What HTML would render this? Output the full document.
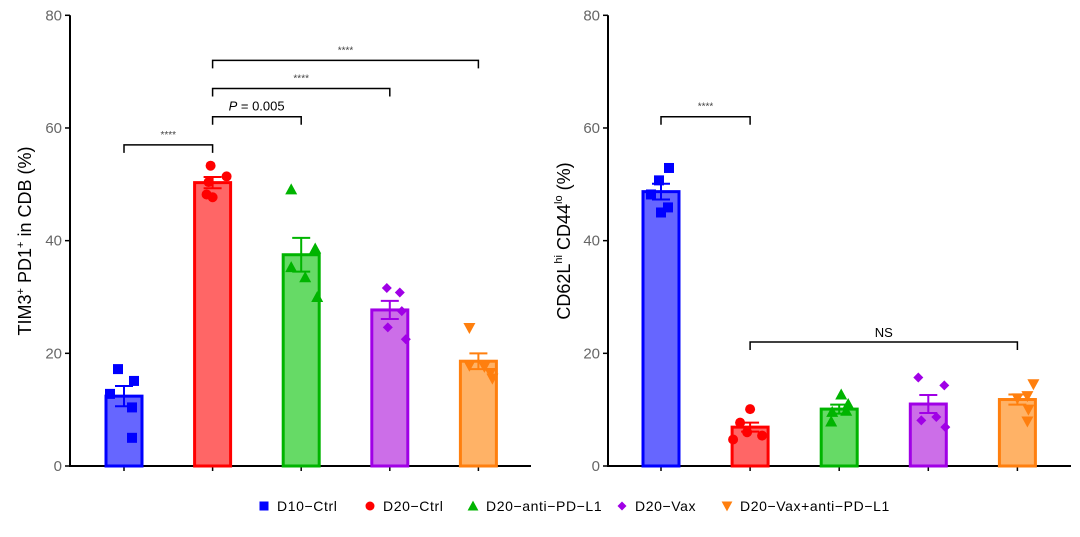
<!DOCTYPE html>
<html><head><meta charset="utf-8">
<style>
html,body{margin:0;padding:0;background:#fff;}
svg{display:block;font-family:"Liberation Sans",Arial,sans-serif;}
</style></head>
<body>
<svg id="chart" width="1080" height="537" viewBox="0 0 1080 537">
  <g id="left"></g>
  <g id="right"></g>
  <g id="legend"></g>
</svg>
<script>
// ---- data ----
const groups = ["D10−Ctrl","D20−Ctrl","D20−anti−PD−L1","D20−Vax","D20−Vax+anti−PD−L1"];
const yTicks = [0,20,40,60,80];
const leftMeans = [12.4, 50.3, 37.5, 27.7, 18.6];
const leftErr = [1.8, 1.0, 3.0, 1.6, 1.4];
const leftPoints = [
  [17.2, 15.1, 12.8, 10.4, 5.0],
  [53.3, 51.4, 50.4, 48.2, 47.7],
  [49.1, 38.6, 35.3, 33.5, 30.0],
  [31.6, 30.8, 27.5, 24.6, 22.5],
  [24.5, 17.8, 16.5, 17.6, 15.5]
];
const rightMeans = [48.7, 6.9, 10.1, 11.0, 11.8];
const rightErr = [1.4, 0.8, 0.8, 1.6, 0.9];
const rightPoints = [
  [52.9, 50.7, 48.2, 45.9, 45.0],
  [10.1, 7.7, 6.0, 5.4, 4.7],
  [12.7, 11.0, 9.6, 9.8, 7.9],
  [15.7, 14.3, 8.7, 8.1, 6.9],
  [14.5, 12.4, 12.0, 10.0, 7.9]
];
const leftBrackets = [[0,1,"****"],[1,2,"P = 0.005"],[1,3,"****"],[1,4,"****"]];
const leftBracketLevels = [57, 62, 67, 72];
const rightBrackets = [[0,1,"****"],[1,4,"NS"]];
const rightBracketLevels = [62, 22];

// ---- style ----
const stroke = ["#0000ff","#ff0000","#00b400","#a000e6","#ff7f0e"];
const fill = ["#6666ff","#ff6666","#66da66","#cc6ee8","#ffb266"];
const shapes = ["square","circle","triangle","diamond","dtriangle"];
const jitterL = [[-6,10,-14,8,8],[-2,14,-4,-6,0],[-10,14,-10,4,16],[-3,10,12,-2,16],[-9,-9,12,6,14]];
const jitterR = [[8,-2,-10,7,0],[0,-10,-3,12,-17],[2,9,-7,7,-8],[-10,16,8,-7,17],[16,10,0,11,10]];
const NS = "http://www.w3.org/2000/svg";

function mk(parent, tag, attrs){
  const e = document.createElementNS(NS, tag);
  for (const k in attrs) e.setAttribute(k, attrs[k]);
  parent.appendChild(e); return e;
}
function marker(parent, shape, cx, cy, s, color){
  let e;
  if (shape==="square") e = mk(parent,"rect",{x:cx-s,y:cy-s,width:2*s,height:2*s,fill:color});
  else if (shape==="circle") e = mk(parent,"circle",{cx:cx,cy:cy,r:s,fill:color});
  else if (shape==="triangle") e = mk(parent,"polygon",{points:`${cx},${cy-s*1.2} ${cx-s*1.2},${cy+s} ${cx+s*1.2},${cy+s}`,fill:color});
  else if (shape==="diamond") e = mk(parent,"polygon",{points:`${cx},${cy-s} ${cx+s},${cy} ${cx},${cy+s} ${cx-s},${cy}`,fill:color});
  else e = mk(parent,"polygon",{points:`${cx-s*1.2},${cy-s} ${cx+s*1.2},${cy-s} ${cx},${cy+s*1.2}`,fill:color});
  return e;
}

function panel(g, cfg){
  const y = v => cfg.y0 - v*(cfg.y0-cfg.y80)/80;
  const x = i => cfg.x0 + i*cfg.step;
  let a = mk(g,"line",{x1:cfg.ax,y1:cfg.y80,x2:cfg.ax,y2:cfg.y0+1,stroke:"#000","stroke-width":2});
  
  
  a = mk(g,"line",{x1:cfg.ax-1,y1:cfg.y0,x2:cfg.axEnd,y2:cfg.y0,stroke:"#000","stroke-width":2});
  
  
  yTicks.forEach(t=>{
    const tk = mk(g,"line",{x1:cfg.ax-5,y1:y(t),x2:cfg.ax,y2:y(t),stroke:"#000","stroke-width":1.5});
    
    
    const tl = mk(g,"text",{x:cfg.ax-8,y:y(t)+5,"text-anchor":"end","font-size":15,fill:"#666"});
    tl.textContent = t;
    
    
  });
  groups.forEach((_,i)=>{
    const tk = mk(g,"line",{x1:x(i),y1:cfg.y0,x2:x(i),y2:cfg.y0+5,stroke:"#000","stroke-width":1.5});
    
    
  });
  cfg.means.forEach((m,i)=>{
    const b = mk(g,"rect",{x:x(i)-18,y:y(m),width:36,height:cfg.y0-y(m),fill:fill[i],stroke:stroke[i],"stroke-width":3});
    
    
    const e = cfg.err[i];
    const eb = mk(g,"path",{d:`M${x(i)},${y(m+e)}V${y(m-e)}M${x(i)-9},${y(m+e)}H${x(i)+9}M${x(i)-9},${y(m-e)}H${x(i)+9}`,stroke:stroke[i],"stroke-width":2,fill:"none"});
    
    
  });
  cfg.points.forEach((pts,i)=>{
    pts.forEach((v,j)=>{
      const p = marker(g, shapes[i], x(i)+cfg.jit[i][j], y(v), 5, stroke[i]);
      
      
    });
  });
  cfg.brackets.forEach((br,k)=>{
    const by = y(cfg.levels[k]);
    const x1 = x(br[0]), x2 = x(br[1]);
    const p = mk(g,"path",{d:`M${x1},${by+8}V${by}H${x2}V${by+8}`,stroke:"#000","stroke-width":1.5,fill:"none"});
    
    
    let t;
    if (br[2].startsWith("P")) {
      t = mk(g,"text",{x:x1+16,y:by-6,"font-size":13,fill:"#000"});
      t.innerHTML = '<tspan font-style="italic">P</tspan> = 0.005';
    } else if (br[2]==="NS") {
      t = mk(g,"text",{x:(x1+x2)/2,y:by-5,"text-anchor":"middle","font-size":13,fill:"#000"});
      t.textContent = "NS";
    } else {
      t = mk(g,"text",{x:(x1+x2)/2,y:by-7,"text-anchor":"middle","font-size":10,fill:"#444"});
      t.textContent = br[2];
    }
    
    
  });
}

panel(document.getElementById("left"), {ax:70, axEnd:531, x0:124, step:88.6, y0:466, y80:15.3,
  means:leftMeans, err:leftErr, points:leftPoints, jit:jitterL, brackets:leftBrackets, levels:leftBracketLevels});
panel(document.getElementById("right"), {ax:608, axEnd:1071, x0:661, step:89.1, y0:466, y80:15.3,
  means:rightMeans, err:rightErr, points:rightPoints, jit:jitterR, brackets:rightBrackets, levels:rightBracketLevels});

const L = document.getElementById("left");
let yt = mk(L,"text",{transform:"translate(31,241) rotate(-90)","text-anchor":"middle","font-size":18,fill:"#000"});
yt.innerHTML = 'TIM3<tspan dy="-7" font-size="11">+</tspan><tspan dy="7"> PD1</tspan><tspan dy="-7" font-size="11">+</tspan><tspan dy="7"> in CDB (%)</tspan>';


const R = document.getElementById("right");
yt = mk(R,"text",{transform:"translate(570,241) rotate(-90)","text-anchor":"middle","font-size":18,fill:"#000"});
yt.innerHTML = 'CD62L<tspan dy="-8" font-size="11">hi</tspan><tspan dy="8"> CD44</tspan><tspan dy="-8" font-size="11">lo</tspan><tspan dy="8"> (%)</tspan>';



const LG = document.getElementById("legend");
const legX = [264, 370, 473, 622, 727];
groups.forEach((gname,i)=>{
  const it = mk(LG,"g",{});
  
  
  marker(it, shapes[i], legX[i], 506, 4.5, stroke[i]);
  const t = mk(it,"text",{x:legX[i]+13,y:511,"font-size":14,"letter-spacing":"0.6",fill:"#000"});
  t.textContent = gname;
});
</script>
</body></html>
